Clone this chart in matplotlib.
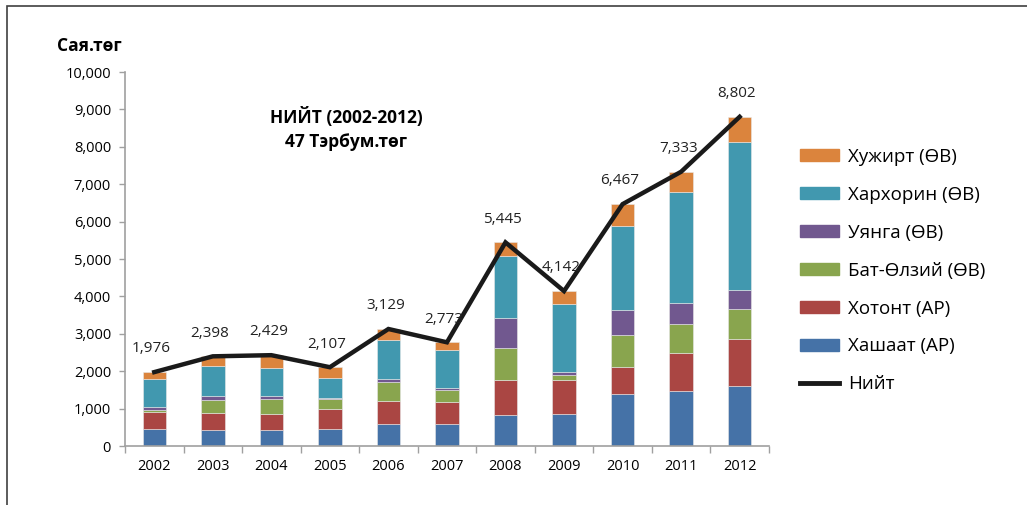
import matplotlib.pyplot as plt
import matplotlib.patches as mpatches
from matplotlib.lines import Line2D
from matplotlib.ticker import FuncFormatter, FixedLocator
import numpy as np

plt.rcParams['font.family'] = ['Open Sans', 'Noto Sans', 'DejaVu Sans']

years = ["2002", "2003", "2004", "2005", "2006", "2007", "2008", "2009", "2010", "2011", "2012"]
totals = [1976, 2398, 2429, 2107, 3129, 2773, 5445, 4142, 6467, 7333, 8802]

# Сегментүүд (доороос дээш)
khashaat = [465, 438, 438, 465, 599, 580, 840, 866, 1401, 1471, 1615]
khotont = [445, 444, 428, 516, 604, 596, 925, 891, 703, 1016, 1257]
bat_olziy = [65, 340, 383, 268, 519, 313, 847, 152, 856, 775, 783]
uyanga = [80, 115, 99, 45, 80, 54, 821, 70, 668, 554, 527]
kharkhorin = [740, 813, 748, 524, 1032, 1035, 1647, 1810, 2254, 2975, 3957]
khuzhirt = [t - a - b - c - d - e for t, a, b, c, d, e in
            zip(totals, khashaat, khotont, bat_olziy, uyanga, kharkhorin)]

series = [
    ("Хашаат (АР)", khashaat, "#4572A7"),
    ("Хотонт (АР)", khotont, "#AA4643"),
    ("Бат-Өлзий (ӨВ)", bat_olziy, "#89A54E"),
    ("Уянга (ӨВ)", uyanga, "#71588F"),
    ("Хархорин (ӨВ)", kharkhorin, "#4198AF"),
    ("Хужирт (ӨВ)", khuzhirt, "#DB843D"),
]

fig = plt.figure(figsize=(10.27, 5.05), dpi=100)
ax = fig.add_axes([0.1217, 0.1168, 0.627, 0.7406])

x = np.arange(len(years))
bottom = np.zeros(len(years))
handles = []
for name, vals, color in series:
    ax.bar(x, vals, width=0.4, bottom=bottom, color=color,
           edgecolor="#e8e8e8", linewidth=0.4, zorder=2)
    bottom += np.array(vals)
    handles.append(mpatches.Patch(color=color, label=name))

ax.plot(x, totals, color="#1a1a1a", linewidth=3.2, zorder=3,
        solid_joinstyle="miter")
for xi, t in zip(x, totals):
    ax.text(xi - 0.05, t + 420, f"{t:,}", ha="center", va="bottom",
            fontsize=11, color="#222222")

ax.set_xlim(-0.5, len(years) - 0.5)
ax.set_ylim(0, 10000)
ax.set_yticks(range(0, 10001, 1000))
ax.yaxis.set_major_formatter(FuncFormatter(lambda v, p: f"{int(v):,}"))
ax.set_xticks(x)
ax.set_xticklabels(years)
ax.xaxis.set_minor_locator(FixedLocator(np.arange(-0.5, len(years), 1)))
ax.tick_params(axis="x", which="major", length=0, pad=9, labelsize=10.5)
ax.tick_params(axis="x", which="minor", length=5, color="#a0a0a0", width=1)
ax.tick_params(axis="y", length=4, color="#a0a0a0", width=1, labelsize=10.5, pad=6)

for s in ["top", "right"]:
    ax.spines[s].set_visible(False)
for s in ["left", "bottom"]:
    ax.spines[s].set_color("#a0a0a0")
    ax.spines[s].set_linewidth(1.2)

fig.text(0.087, 0.908, "Сая.төг", fontsize=12.5, fontweight="bold", ha="center", va="center")
fig.text(0.337, 0.745, "НИЙТ (2002-2012)\n47 Тэрбум.төг", fontsize=12.5,
         fontweight="bold", ha="center", va="center", linespacing=1.45)

handles = handles[::-1] + [Line2D([], [], color="#1a1a1a", linewidth=3.5, label="Нийт")]
fig.legend(handles=handles, loc="center left", bbox_to_anchor=(0.779, 0.464),
           frameon=False, fontsize=13.5, handlelength=2.1, handleheight=0.6,
           labelspacing=1.06, handletextpad=0.45, borderpad=0, borderaxespad=0)

# рамка
fig.add_artist(plt.Rectangle((0.0068, -0.1), 1.2, 1.0877, transform=fig.transFigure,
                             fill=False, edgecolor="#404040", linewidth=1.2))

fig.savefig("out.png", dpi=100)
